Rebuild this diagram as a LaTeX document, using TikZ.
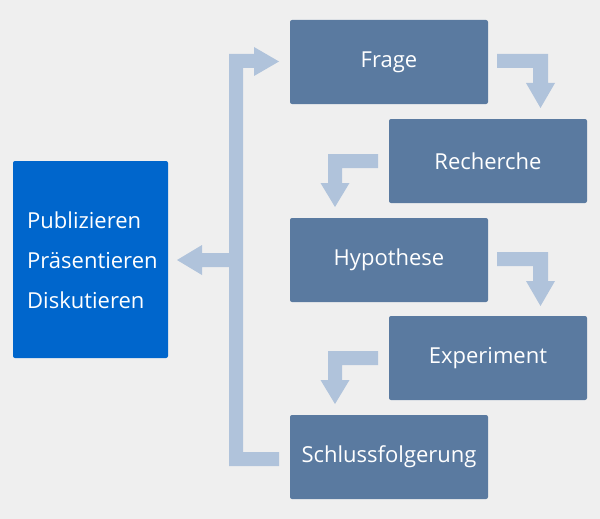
\documentclass[tikz,border=0pt]{standalone}
\usepackage{fontspec}
\setmainfont{Open Sans}
\definecolor{bgc}{HTML}{EFEFEF}
\definecolor{stepc}{HTML}{5A7AA0}
\definecolor{leftc}{HTML}{0066CC}
\definecolor{arrc}{HTML}{B0C3DB}
\begin{document}
\begin{tikzpicture}[x=1pt,y=-1pt,
  stepbox/.style={fill=stepc, rounded corners=2pt, minimum width=198pt, minimum height=84pt, inner sep=0pt, text=white, font=\fontsize{22}{26}\selectfont},
  outbox/.style={fill=leftc, rounded corners=2pt, minimum width=155pt, minimum height=197pt, inner sep=0pt, text=white},
  blockarrow/.style={fill=arrc}]
\fill[bgc] (0,0) rectangle (600,519);
\useasboundingbox (0,0) rectangle (600,519);
\node[stepbox] (frage) at (389,62) {Frage};
\node[stepbox] (recherche) at (488,161) {Recherche};
\node[stepbox] (hypo) at (389,260) {Hypothese};
\node[stepbox] (exp) at (488,358) {Experiment};
\node[stepbox] (schluss) at (389,457) {Schlussfolgerung};
\node[outbox] (out) at (90.5,259.5) {};
\node[text=white, anchor=west, align=left, inner sep=0pt, font=\fontsize{22}{40}\selectfont] (outtext) at (27,260) {Publizieren\\Präsentieren\\Diskutieren};
% Frage -> Recherche
\fill[blockarrow] (497,54) -- (548,54) -- (548,83) -- (555,83) -- (540.5,108) -- (526,83) -- (533,83) -- (533,68) -- (497,68) -- cycle;
% Recherche -> Hypothese
\fill[blockarrow] (378,154) -- (328,154) -- (328,183) -- (320.5,183) -- (335,207) -- (349.5,183) -- (342,183) -- (342,168) -- (378,168) -- cycle;
% Hypothese -> Experiment
\fill[blockarrow] (497,252) -- (548,252) -- (548,281) -- (555,281) -- (540.5,306) -- (526,281) -- (533,281) -- (533,266) -- (497,266) -- cycle;
% Experiment -> Schluss
\fill[blockarrow] (378,351) -- (328,351) -- (328,380) -- (320.5,380) -- (335,404) -- (349.5,380) -- (342,380) -- (342,365) -- (378,365) -- cycle;
% feedback bracket
\fill[blockarrow] (279,466) -- (229,466) -- (229,267) -- (202,267) -- (202,275) -- (177,260) -- (202,245) -- (202,253) -- (229,253) -- (229,54) -- (254,54) -- (254,47) -- (279,61.5) -- (254,76) -- (254,68) -- (243,68) -- (243,452) -- (279,452) -- cycle;
\end{tikzpicture}
\end{document}
